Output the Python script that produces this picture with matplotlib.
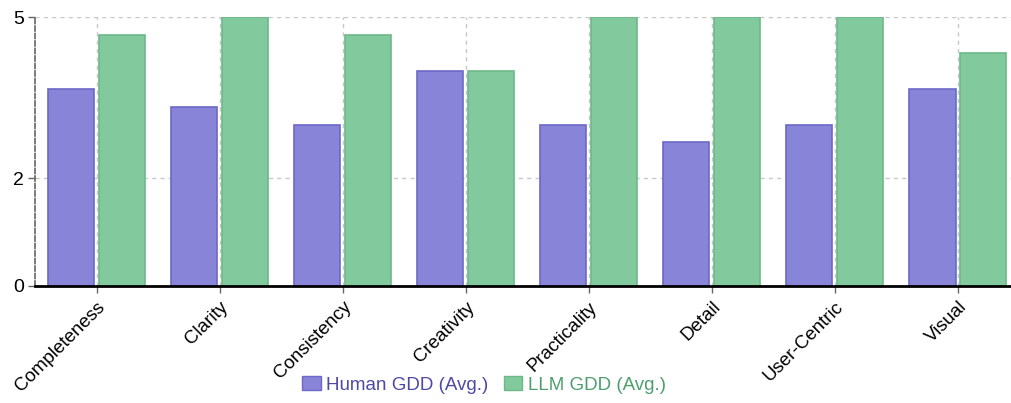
import matplotlib
matplotlib.use("Agg")
import matplotlib.pyplot as plt
import numpy as np
from matplotlib.patches import Patch

categories = ["Completeness", "Clarity", "Consistency", "Creativity",
              "Practicality", "Detail", "User-Centric", "Visual"]
human_avg = [3.67, 3.33, 3.0, 4.0, 3.0, 2.67, 3.0, 3.67]
llm_avg = [4.67, 5.0, 4.67, 4.0, 5.0, 5.0, 5.0, 4.33]
y_ticks = [0, 2, 5]
series_names = ["Human GDD (Avg.)", "LLM GDD (Avg.)"]

plt.rcParams['font.family'] = ['Liberation Sans', 'DejaVu Sans']

fig = plt.figure(figsize=(10.11, 4.03), dpi=100)
ax = fig.add_axes([35/1011, 1-286/403, 1-35/1011, (286-17)/403])

x = np.arange(len(categories))
w = 0.374
off = 0.207
ax.bar(x - off, human_avg, width=w, color='#8884d8', edgecolor='#6d68c8', linewidth=1.2, zorder=3)
ax.bar(x + off, llm_avg, width=w, color='#82ca9d', edgecolor='#6cb888', linewidth=1.2, zorder=3)

ax.set_xlim(-0.5, (1011-97)/123)
ax.set_ylim(0, 5)
ax.set_yticks(y_ticks)
ax.set_yticklabels([str(v) for v in y_ticks], fontsize=14)
ax.set_xticks(x)
ax.set_xticklabels(categories, rotation=45, ha='right', rotation_mode='anchor', fontsize=13.5)

for v in y_ticks[1:]:
    ax.axhline(v, color='#c8c8c8', linestyle=(0, (3, 3)), linewidth=1, zorder=1)
for xi in x:
    ax.axvline(xi, color='#c8c8c8', linestyle=(0, (3, 3)), linewidth=1, zorder=1)

for s in ['top', 'right']:
    ax.spines[s].set_visible(False)
ax.spines['left'].set_color('#666666')
ax.spines['left'].set_linestyle((0, (3, 1.5)))
ax.spines['left'].set_linewidth(1.2)
ax.spines['bottom'].set_color('black')
ax.spines['bottom'].set_linewidth(2)
ax.spines['bottom'].set_zorder(4)
ax.tick_params(axis='both', color='#666666', length=5, width=1)
ax.tick_params(axis='y', pad=3)
ax.tick_params(axis='x', pad=4)

handles = [Patch(facecolor='#8884d8', edgecolor='#6d68c8'),
           Patch(facecolor='#82ca9d', edgecolor='#6cb888')]
leg = fig.legend(handles, series_names, loc='center', bbox_to_anchor=(484/1011, 1-385/403),
                 ncol=2, frameon=False, fontsize=13.5, handlelength=1.0, handleheight=0.7,
                 handletextpad=0.3, columnspacing=0.8)
for t, c in zip(leg.get_texts(), ['#4f48a6', '#4f9e6e']):
    t.set_color(c)

fig.savefig("out.png", dpi=100)
